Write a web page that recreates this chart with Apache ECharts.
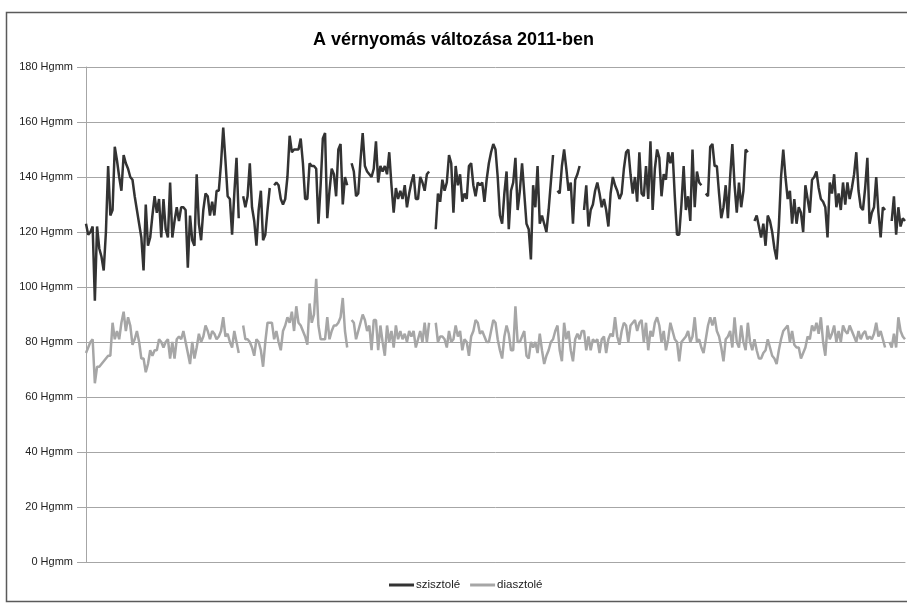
<!DOCTYPE html>
<html><head><meta charset="utf-8">
<script src="https://cdn.jsdelivr.net/npm/echarts@6/dist/echarts.min.js"></script>
<style>html,body{margin:0;padding:0;background:#fff}#c{width:907px;height:604px}</style>
</head><body><div id="c"></div>
<script>
const chartTitle = 'A vérnyomás változása 2011-ben';
const seriesNames = ['szisztolé', 'diasztolé'];
const unit = 'Hgmm';
const systolic = [
123,119,120,122,95,122,114,111,106,120,144,126,128,151,146,140,135,148,145,143,140,139,133,128,123,118,106,130,115,118,126,133,127,132,118,132,121,118,138,118,124,129,124,129,129,128,107,126,117,115,141,123,117,128,134,133,126,131,126,135,135,145,158,
146,133,132,119,134,147,125,null,133,129,133,145,129,124,115,128,135,117,119,128,136,null,137,138,137,132,130,132,140,155,149,150,150,150,154,145,132,132,145,144,144,143,123,137,154,156,125,135,143,141,133,150,152,130,140,137,null,145,142,133,134,
146,156,144,142,141,140,143,153,138,144,142,144,141,149,137,127,136,132,135,132,137,129,134,138,141,132,132,140,138,135,141,142,null,null,121,134,131,139,135,138,148,145,127,144,137,141,131,134,132,144,145,137,133,138,137,138,131,139,145,149,152,150,
140,126,123,134,142,121,135,138,147,128,135,145,134,123,121,110,137,129,144,123,126,123,120,128,138,148,null,135,134,144,150,143,135,138,123,139,141,144,null,128,137,122,128,130,135,138,134,129,132,128,122,134,140,137,135,132,134,143,149,150,141,
134,140,131,149,134,133,144,132,153,128,143,150,147,133,141,139,149,145,149,133,119,119,130,144,128,133,124,150,129,142,138,137,null,134,133,151,152,144,144,134,125,129,137,125,140,152,137,127,138,129,135,150,149,null,null,124,126,122,118,123,115,
126,124,120,114,110,122,140,150,140,132,135,123,132,123,129,127,120,137,132,127,139,140,142,136,132,131,129,118,138,134,141,129,134,128,138,130,138,132,136,141,149,135,129,128,136,147,123,127,129,140,127,118,129,128,null,null,124,133,119,129,122,125,124
];
const diastolic = [
76,78,80,81,65,71,71,72,73,74,75,75,87,81,84,81,87,91,84,89,86,79,81,84,80,74,74,69,72,77,75,77,77,81,80,78,80,81,74,80,74,81,82,81,84,80,76,72,80,74,78,83,80,82,86,84,81,84,83,81,82,84,89,
82,83,80,78,84,80,76,null,86,81,81,80,78,75,81,80,77,71,80,87,87,87,81,84,80,77,84,86,89,87,91,84,93,87,86,84,82,79,94,87,90,103,86,81,81,81,89,81,84,86,86,87,89,96,84,78,null,88,87,81,84,
87,90,88,84,86,77,88,88,77,86,80,75,86,80,84,78,86,81,84,81,83,80,84,82,84,78,81,84,80,87,80,87,null,null,87,80,82,82,81,78,84,80,81,86,82,84,77,81,80,75,82,84,88,87,83,84,82,80,80,84,88,87,
81,77,74,82,86,83,77,77,93,80,80,82,84,75,74,80,78,80,76,83,77,72,75,77,80,81,84,86,77,73,87,81,84,77,73,81,83,81,84,84,77,82,77,81,80,81,76,81,82,76,81,83,82,89,82,79,84,87,86,80,86,
87,88,84,87,88,80,87,77,84,82,87,89,86,80,84,77,81,87,84,81,80,73,80,81,82,84,80,82,89,80,81,78,76,81,86,89,86,89,84,82,78,73,81,82,84,78,89,80,78,86,80,77,87,80,77,81,77,74,74,76,77,
81,78,75,74,72,77,81,84,85,86,80,84,79,78,78,74,76,78,82,81,86,84,87,83,89,80,75,86,81,83,86,80,84,80,86,84,83,86,84,82,80,84,81,83,84,81,82,81,83,87,82,84,81,78,null,80,78,83,78,89,84,82,81
];
const categories = systolic.map((_, i) => String(i + 1));

const chart = echarts.init(document.getElementById('c'), null, {renderer: 'canvas'});
const font = 'Liberation Sans, Arial, sans-serif';
chart.setOption({
  animation: false,
  backgroundColor: '#ffffff',
  title: {
    text: chartTitle, left: 'center', top: 26,
    textStyle: {fontFamily: font, fontSize: 18, fontWeight: 'bold', color: '#000'}
  },
  legend: {
    top: 574, left: 384, icon: 'rect', itemWidth: 25, itemHeight: 3, itemGap: 10,
    textStyle: {fontFamily: font, fontSize: 11.5, color: '#222', padding: [0, 0, 0, -3]},
    data: seriesNames
  },
  grid: {left: 86, right: 2, top: 67, bottom: 42, containLabel: false},
  xAxis: {
    type: 'category', data: categories, boundaryGap: false,
    axisLine: {show: true, lineStyle: {color: '#a6a6a6', width: 1}},
    axisTick: {show: false}, axisLabel: {show: false}, splitLine: {show: false}
  },
  yAxis: {
    type: 'value', min: 0, max: 180, interval: 20,
    axisLine: {show: true, lineStyle: {color: '#a6a6a6', width: 1}},
    axisTick: {show: true, length: 9, lineStyle: {color: '#a6a6a6'}},
    axisLabel: {formatter: '{value} ' + unit, fontFamily: font, fontSize: 11, color: '#222', margin: 13},
    splitLine: {show: true, lineStyle: {color: '#a6a6a6', width: 1}}
  },
  series: [
    {name: seriesNames[0], type: 'line', data: systolic, showSymbol: false, symbol: 'none',
     connectNulls: false, lineStyle: {color: '#333333', width: 2.5}, itemStyle: {color: '#333333'}},
    {name: seriesNames[1], type: 'line', data: diastolic, showSymbol: false, symbol: 'none',
     connectNulls: false, lineStyle: {color: '#a6a6a6', width: 2.5}, itemStyle: {color: '#a6a6a6'}}
  ],
  graphic: [{
    type: 'rect', silent: true, z: -1,
    shape: {x: 6.5, y: 12.5, width: 906, height: 589},
    style: {fill: 'none', stroke: '#5a5a5a', lineWidth: 1.5}
  }]
});
</script>
</body></html>
